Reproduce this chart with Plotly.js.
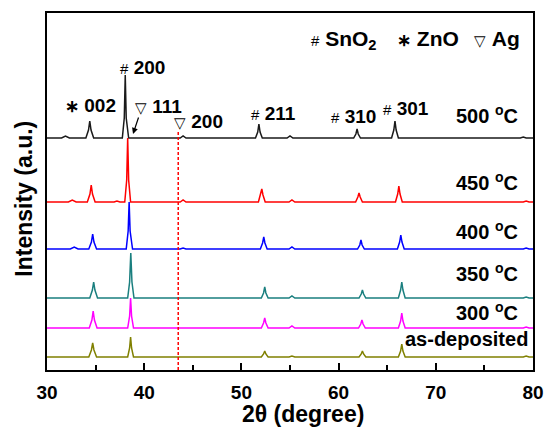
<!DOCTYPE html>
<html>
<head>
<meta charset="utf-8">
<script src="https://cdn.plot.ly/plotly-3.0.1.min.js"></script>
<style>html,body{margin:0;padding:0;background:#fff;}#chart{width:545px;height:429px;}</style>
</head>
<body>
<div id="chart"></div>
<script>
// 2θ (degree) positions and offset intensities (a.u.)
const x500 = [30, 31.5, 31.9, 32.3, 34.0, 34.27, 34.4, 34.53, 34.8, 37.75, 37.95, 38.05, 38.15, 38.4, 43.7, 44.0, 44.3, 51.45, 51.68, 51.8, 51.92, 52.15, 54.7, 55.0, 55.3, 61.55, 61.78, 61.9, 62.02, 62.25, 65.45, 65.68, 65.8, 65.92, 66.15, 78.7, 79.0, 79.3, 80];
const y500 = [232, 232, 234, 232, 232, 240, 249, 240, 232, 232, 252, 295, 252, 232, 232, 234, 232, 232, 238, 246, 238, 232, 232, 234, 232, 232, 236, 241, 236, 232, 232, 240, 249, 240, 232, 232, 233, 232, 232];

const x450 = [30, 32.2, 32.6, 33.0, 34.15, 34.42, 34.55, 34.68, 34.95, 36.9, 37.2, 37.5, 38.0, 38.2, 38.3, 38.4, 38.6, 43.7, 44.0, 44.3, 51.75, 51.98, 52.1, 52.22, 52.45, 54.9, 55.2, 55.5, 61.75, 61.98, 62.1, 62.22, 62.45, 65.85, 66.08, 66.2, 66.32, 66.55, 79.0, 79.3, 79.6, 80];
const y450 = [168, 168, 170, 168, 168, 176, 185, 176, 168, 168, 169, 168, 168, 190, 232, 190, 168, 168, 170, 168, 168, 175, 181, 175, 168, 168, 170, 168, 168, 173, 177, 173, 168, 168, 176, 184, 176, 168, 168, 169, 168, 168];

const x400 = [30, 32.4, 32.8, 33.2, 34.3, 34.57, 34.7, 34.83, 35.1, 38.15, 38.35, 38.45, 38.55, 38.8, 43.7, 44.0, 44.3, 51.95, 52.18, 52.3, 52.42, 52.65, 54.9, 55.2, 55.5, 61.95, 62.18, 62.3, 62.42, 62.65, 66.05, 66.28, 66.4, 66.52, 66.75, 79.0, 79.3, 79.6, 80];
const y400 = [121, 121, 123, 121, 121, 128, 136, 128, 121, 121, 139, 168, 139, 121, 121, 122, 121, 121, 127, 133, 127, 121, 121, 123, 121, 121, 125, 130, 125, 121, 121, 128, 135, 128, 121, 121, 122, 121, 121];

const x350 = [30, 34.4, 34.67, 34.8, 34.93, 35.2, 38.3, 38.5, 38.62, 38.74, 38.95, 52.05, 52.28, 52.4, 52.52, 52.75, 54.9, 55.2, 55.5, 62.1, 62.33, 62.45, 62.57, 62.8, 66.15, 66.38, 66.5, 66.62, 66.85, 79.0, 79.3, 79.6, 80];
const y350 = [72, 72, 80, 88, 80, 72, 72, 88, 117, 88, 72, 72, 77, 83, 77, 72, 72, 74, 72, 72, 76, 80, 76, 72, 72, 80, 88, 80, 72, 72, 73, 72, 72];

const x300 = [30, 34.35, 34.62, 34.75, 34.88, 35.15, 38.3, 38.5, 38.6, 38.7, 38.9, 52.05, 52.28, 52.4, 52.52, 52.75, 54.9, 55.2, 55.5, 62.05, 62.28, 62.4, 62.52, 62.75, 66.15, 66.38, 66.5, 66.62, 66.85, 79.0, 79.3, 79.6, 80];
const y300 = [42, 42, 50, 59, 50, 42, 42, 54, 72, 54, 42, 42, 47, 52, 47, 42, 42, 44, 42, 42, 46, 50, 46, 42, 42, 49, 57, 49, 42, 42, 43, 42, 42];

const xAs = [30, 34.3, 34.57, 34.7, 34.83, 35.1, 38.3, 38.5, 38.6, 38.7, 38.9, 52.05, 52.28, 52.4, 52.52, 52.75, 54.9, 55.2, 55.5, 62.1, 62.33, 62.45, 62.57, 62.8, 66.15, 66.38, 66.5, 66.62, 66.85, 79.0, 79.3, 79.6, 80];
const yAs = [13, 13, 20, 27, 20, 13, 13, 22, 33, 22, 13, 13, 16, 19, 16, 13, 13, 14, 13, 13, 16, 19, 16, 13, 13, 19, 26, 19, 13, 13, 14, 13, 13];

const seriesNames = ["500 °C", "450 °C", "400 °C", "350 °C", "300 °C", "as-deposited"];
const seriesColors = ["#1a1a1a", "#ff0000", "#0000ff", "#1a7f7f", "#ff00ff", "#808000"];
const seriesX = [x500, x450, x400, x350, x300, xAs];
const seriesY = [y500, y450, y400, y350, y300, yAs];

// Ag (200) reference line position and its top
const agLineX = [43.5, 43.5];
const agLineY = [0, 238];

const xTickVals = [30, 40, 50, 60, 70, 80];

const traces = seriesX.map((xs, i) => ({
  x: xs, y: seriesY[i], type: 'scatter', mode: 'lines', name: seriesNames[i],
  line: {color: seriesColors[i], width: 1.5}, hoverinfo: 'skip'
}));
traces.push({x: agLineX, y: agLineY, type: 'scatter', mode: 'lines',
  line: {color: '#ff0000', width: 1.5, dash: '3px,2px'}, hoverinfo: 'skip'});

const F = 'Liberation Sans, Arial, sans-serif';
function lab(x, y, text, size) {
  return {x: x, y: y, xref: 'x', yref: 'y', text: text, showarrow: false,
    xanchor: 'center', yanchor: 'middle', font: {family: F, size: size || 19, color: '#000'}};
}
const hash = '<span style="font-size:15px">#</span>';
const tri = '<span style="font-size:15px">▽</span>';
const star = '<span style="font-size:17px"><b>∗</b></span>';

const annotations = [
  lab(34.5, 265, star + ' <b>002</b>'),
  lab(39.8, 303, hash + ' <b>200</b>'),
  lab(41.5, 264, tri + ' <b>111</b>'),
  lab(45.6, 249, tri + ' <b>200</b>'),
  lab(53.3, 257, hash + ' <b>211</b>'),
  lab(61.5, 254, hash + ' <b>310</b>'),
  lab(66.9, 262, hash + ' <b>301</b>'),
  lab(75.3, 256, '<b>500 <sup>o</sup>C</b>', 20),
  lab(75.3, 189, '<b>450 <sup>o</sup>C</b>', 20),
  lab(75.3, 140, '<b>400 <sup>o</sup>C</b>', 20),
  lab(75.3, 98, '<b>350 <sup>o</sup>C</b>', 20),
  lab(75.3, 59, '<b>300 <sup>o</sup>C</b>', 20),
  lab(73.2, 31, '<b>as-deposited</b>', 20),
  lab(60.6, 330, hash + ' <b>SnO<sub>2</sub></b>', 21),
  lab(69.2, 332, star + ' <b>ZnO</b>', 21),
  lab(76.3, 332, tri + ' <b>Ag</b>', 21),
  {x: 38.85, y: 236, xref: 'x', yref: 'y', ax: 6, ay: -18, axref: 'pixel', ayref: 'pixel',
   text: '', showarrow: true, arrowhead: 2, arrowsize: 1, arrowwidth: 1.2, arrowcolor: '#000'},
  // axis titles
  {x: 0.527, y: -0.122, xref: 'paper', yref: 'paper', xanchor: 'center', yanchor: 'middle',
   showarrow: false, text: '<b>2θ (degree)</b>', font: {family: F, size: 23, color: '#000'}},
  {x: -0.048, y: 0.479, xref: 'paper', yref: 'paper', xanchor: 'center', yanchor: 'middle',
   showarrow: false, textangle: -90, text: '<b>Intensity (a.u.)</b>', font: {family: F, size: 23, color: '#000'}}
];

const layout = {
  width: 545, height: 429,
  margin: {l: 47, r: 12, t: 13, b: 59},
  paper_bgcolor: '#fff', plot_bgcolor: '#fff',
  showlegend: false,
  xaxis: {
    range: [30, 80], tickvals: xTickVals, ticks: 'inside', ticklen: 7, tickwidth: 2, tickcolor: '#000',
    minor: {dtick: 5, ticks: 'inside', ticklen: 5, tickwidth: 2, tickcolor: '#000'},
    showline: true, linewidth: 2, linecolor: '#000', mirror: true, showgrid: false, zeroline: false,
    ticklabelstandoff: 4,
    tickfont: {family: F, size: 19, color: '#000', weight: 'bold'}
  },
  yaxis: {
    range: [0, 357], showticklabels: false, ticks: '', showgrid: false, zeroline: false,
    showline: true, linewidth: 2, linecolor: '#000', mirror: true
  },
  annotations: annotations
};

Plotly.newPlot('chart', traces, layout, {displayModeBar: false, staticPlot: true});
</script>
</body>
</html>
